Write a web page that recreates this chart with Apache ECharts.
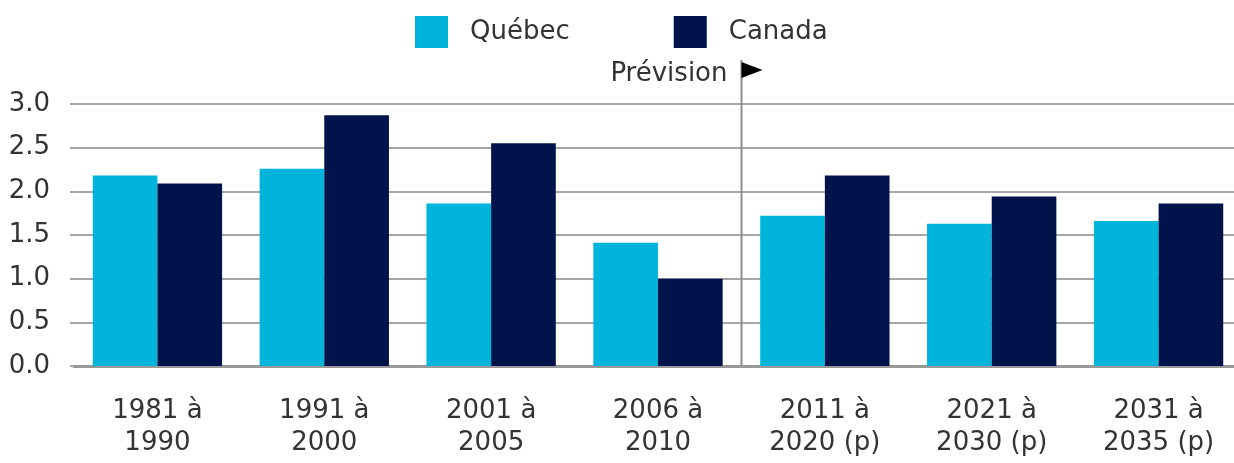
<!DOCTYPE html>
<html>
<head>
<meta charset="utf-8">
<script src="https://cdn.jsdelivr.net/npm/echarts@6/dist/echarts.min.js"></script>
<style>
  html, body { margin: 0; padding: 0; background: #fff; }
  #chart { width: 1234px; height: 463px; }
</style>
</head>
<body>
<div id="chart"></div>
<script>
const categories = ['1981 à\n1990', '1991 à\n2000', '2001 à\n2005', '2006 à\n2010', '2011 à\n2020 (p)', '2021 à\n2030 (p)', '2031 à\n2035 (p)']
const quebec = [2.18, 2.26, 1.86, 1.41, 1.72, 1.63, 1.66]
const canada = [2.09, 2.87, 2.55, 1.0, 2.18, 1.94, 1.86]
const yTicks = [0, 0.5, 1, 1.5, 2, 2.5, 3]
const forecastStart = 4 // index of first forecast category

const font = 'DejaVu Sans'
const textColor = '#333'
const gridColor = '#a6a6a6'

const chart = echarts.init(document.getElementById('chart'))

const option = {
  animation: false,
  textStyle: { fontFamily: font },
  legend: {
    data: ['Québec', 'Canada'],
    left: 410,
    top: 11,
    itemWidth: 33,
    itemHeight: 32,
    itemGap: 104,
    icon: 'rect',
    textStyle: { fontSize: 26, color: textColor, fontFamily: font, padding: [0, 0, 0, 17] }
  },
  grid: {
    left: 74,
    top: 104,
    width: 1168,
    height: 262,
    containLabel: false,
    outerBoundsMode: 'none'
  },
  xAxis: {
    type: 'category',
    data: categories,
    axisLine: { show: true, lineStyle: { color: '#999', width: 3 } },
    axisTick: { show: false },
    axisLabel: {
      fontSize: 26,
      color: textColor,
      fontFamily: font,
      lineHeight: 32,
      margin: 29,
      interval: 0
    }
  },
  yAxis: {
    type: 'value',
    min: yTicks[0],
    max: yTicks[yTicks.length - 1],
    interval: 0.5,
    axisLine: { show: false },
    axisTick: { show: true, length: 4, lineStyle: { color: gridColor, width: 2 } },
    axisLabel: {
      fontSize: 26,
      color: textColor,
      fontFamily: font,
      margin: 24,
      formatter: v => v.toFixed(1)
    },
    splitLine: { lineStyle: { color: gridColor, width: 2 } }
  },
  series: [
    {
      name: 'Québec',
      type: 'bar',
      data: quebec,
      barGap: '0%',
      barCategoryGap: '22.5%',
      itemStyle: { color: '#00b4dc' }
    },
    {
      name: 'Canada',
      type: 'bar',
      data: canada,
      itemStyle: { color: '#00134a' }
    }
  ]
}

chart.setOption(option)

// forecast divider, arrow and label placed from the axis scales
const c3 = chart.convertToPixel({ xAxisIndex: 0 }, categories[forecastStart - 1])
const c4 = chart.convertToPixel({ xAxisIndex: 0 }, categories[forecastStart])
const xb = Math.round((c3 + c4) / 2) + 0.5
const yZero = chart.convertToPixel({ yAxisIndex: 0 }, 0)
const yTop = chart.convertToPixel({ yAxisIndex: 0 }, 3)

chart.setOption({
  graphic: [
    {
      type: 'line',
      shape: { x1: xb, y1: yTop - 44, x2: xb, y2: yZero },
      style: { stroke: '#8c8c8c', lineWidth: 2 },
      z: 10
    },
    {
      type: 'polygon',
      shape: { points: [[xb, yTop - 42], [xb + 21, yTop - 34], [xb, yTop - 26]] },
      style: { fill: '#000' },
      z: 10
    },
    {
      type: 'text',
      x: xb - 14,
      y: yTop - 30,
      style: {
        text: 'Prévision',
        font: '26px "DejaVu Sans"',
        fill: textColor,
        align: 'right',
        verticalAlign: 'middle'
      },
      z: 10
    }
  ]
})
</script>
</body>
</html>
